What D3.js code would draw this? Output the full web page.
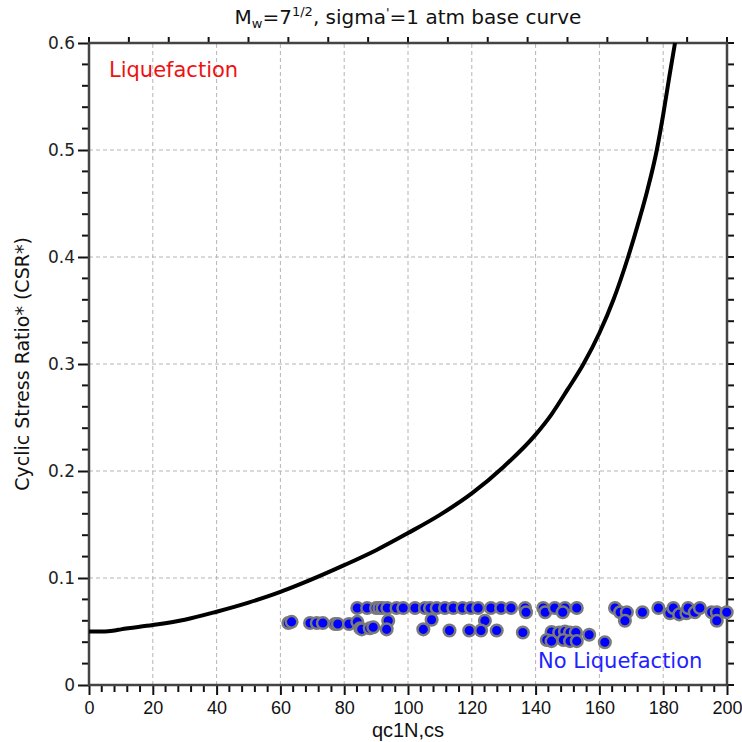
<!DOCTYPE html>
<html><head><meta charset="utf-8">
<script src="https://cdn.jsdelivr.net/npm/d3@7"></script>
<style>body{margin:0;background:#fff}</style>
</head><body>
<script>
// Base curve (qc1N,cs , CSR*)
const curveQ   = [0, 5, 8, 10, 20, 30, 40, 50, 60, 66, 80, 90, 100, 110, 120, 130, 140, 145, 150, 155, 160, 164.4, 169, 172.7, 175, 178, 180, 182, 183.7];
const curveCSR = [0.050, 0.050, 0.051, 0.052, 0.056, 0.061, 0.0685, 0.077, 0.087, 0.094, 0.112, 0.126, 0.142, 0.159, 0.179, 0.204, 0.234, 0.253, 0.276, 0.300, 0.329, 0.360, 0.400, 0.437, 0.462, 0.500, 0.533, 0.570, 0.600];
// Case history points
const ptQ   = [62.5, 63.5, 69.3, 71.4, 73.3, 77.1, 78, 81.5, 84.1, 85, 85.5, 88, 89.1, 93.8, 93.3, 104.8,
               84.1, 87.2, 90, 91, 92, 93.5, 96.4, 98.5, 102.2, 105.3,
               106.9, 109, 111.6, 114.2, 117.1, 119.7, 122, 126, 129.2, 132.3, 136.7, 137, 142.4, 143, 146, 149.2, 148.5, 152.9,
               107.4, 124.1, 113, 119.2, 122.9, 127.8, 136,
               145, 143.5, 145, 147.4, 149.2, 150.8, 152.6, 148.7, 150.8, 152.9, 156.8, 161.7,
               164.9, 166.5, 168.6, 168, 173.5, 178.5, 182.1, 183.2, 185, 187.3, 187.8, 189.9, 191.5, 195.2, 196.8, 196.8, 199.9];
const ptCSR = [0.058, 0.059, 0.058, 0.058, 0.058, 0.057, 0.057, 0.057, 0.059, 0.053, 0.052, 0.053, 0.054, 0.060, 0.052, 0.052,
               0.072, 0.072, 0.072, 0.072, 0.072, 0.072, 0.072, 0.072, 0.072, 0.072,
               0.072, 0.072, 0.072, 0.072, 0.072, 0.072, 0.072, 0.072, 0.072, 0.072, 0.072, 0.068, 0.072, 0.068, 0.072, 0.072, 0.068, 0.072,
               0.061, 0.060, 0.051, 0.051, 0.051, 0.051, 0.049,
               0.0495, 0.042, 0.041, 0.049, 0.050, 0.049, 0.049, 0.042, 0.041, 0.041, 0.047, 0.040,
               0.072, 0.068, 0.068, 0.060, 0.068, 0.072, 0.067, 0.072, 0.066, 0.067, 0.072, 0.068, 0.072, 0.068, 0.068, 0.060, 0.068];
const xTicks = [0, 20, 40, 60, 80, 100, 120, 140, 160, 180, 200];
const yTicks = [0, 0.1, 0.2, 0.3, 0.4, 0.5, 0.6];
const yTickLabels = ["0", "0.1", "0.2", "0.3", "0.4", "0.5", "0.6"];

const W = 742, H = 742;
const m = {l: 89, r: 15, t: 43, b: 57};
const svg = d3.select("body").append("svg").attr("width", W).attr("height", H);
const x = d3.scaleLinear().domain([0, 200]).range([m.l, W - m.r]);
const y = d3.scaleLinear().domain([0, 0.6]).range([H - m.b, m.t]);

// grid
const g = svg.append("g");
g.selectAll("line.vx").data(xTicks.slice(1, -1)).join("line")
  .attr("x1", d => x(d)).attr("x2", d => x(d)).attr("y1", y(0)).attr("y2", y(0.6))
  .attr("stroke", "#b4b4b4").attr("stroke-dasharray", "4,3").attr("stroke-width", 1);
g.selectAll("line.hy").data(yTicks.slice(1, -1)).join("line")
  .attr("y1", d => y(d)).attr("y2", d => y(d)).attr("x1", x(0)).attr("x2", x(200))
  .attr("stroke", "#b4b4b4").attr("stroke-dasharray", "4,3").attr("stroke-width", 1);

// minor ticks
const xMinor = d3.range(0, 201, 4).filter(v => v % 20 !== 0);
const yMinor = d3.range(0, 31).map(i => i * 0.02).filter((v, i) => i % 5 !== 0);

// bottom axis
const bx = svg.append("g").attr("transform", `translate(0,${y(0)})`)
  .call(d3.axisBottom(x).tickValues(xTicks).tickSize(10).tickSizeOuter(0).tickPadding(6));
bx.select(".domain").remove();
bx.selectAll(".tick line").attr("stroke", "#111").attr("stroke-width", 2);
bx.selectAll("text").attr("font-family", "'Liberation Sans Narrow', 'Liberation Sans', sans-serif").attr("font-size", 18).attr("fill", "#111");
svg.append("g").selectAll("line").data(xMinor).join("line")
  .attr("x1", d => x(d)).attr("x2", d => x(d)).attr("y1", y(0)).attr("y2", y(0) + 7)
  .attr("stroke", "#111").attr("stroke-width", 2);

// left axis
const ly = svg.append("g").attr("transform", `translate(${x(0)},0)`)
  .call(d3.axisLeft(y).tickValues(yTicks).tickFormat((d, i) => yTickLabels[i]).tickSize(11).tickSizeOuter(0).tickPadding(3));
ly.select(".domain").remove();
ly.selectAll(".tick line").attr("stroke", "#111").attr("stroke-width", 2);
ly.selectAll("text").attr("font-family", "'DejaVu Sans', sans-serif").attr("font-size", 17).attr("fill", "#222");
svg.append("g").selectAll("line").data(yMinor).join("line")
  .attr("x1", x(0) - 7).attr("x2", x(0)).attr("y1", d => y(d)).attr("y2", d => y(d))
  .attr("stroke", "#111").attr("stroke-width", 2);

// right axis ticks
svg.append("g").selectAll("line").data(d3.range(0, 31).map(i => i * 0.02)).join("line")
  .attr("x1", x(200)).attr("x2", x(200) + 7).attr("y1", d => y(d)).attr("y2", d => y(d))
  .attr("stroke", "#111").attr("stroke-width", 2);
// top axis ticks
svg.append("g").selectAll("line").data(d3.range(0, 201, 12.5)).join("line")
  .attr("x1", d => x(d)).attr("x2", d => x(d)).attr("y1", y(0.6)).attr("y2", y(0.6) - 6)
  .attr("stroke", "#111").attr("stroke-width", 2);

// frame
svg.append("rect").attr("x", x(0)).attr("y", y(0.6)).attr("width", x(200) - x(0)).attr("height", y(0) - y(0.6))
  .attr("fill", "none").attr("stroke", "#444").attr("stroke-width", 2.5);

// curve
const curveData = curveQ.map((q, i) => [q, curveCSR[i]]);
svg.append("path").datum(curveData)
  .attr("d", d3.line().x(d => x(d[0])).y(d => y(d[1])).curve(d3.curveMonotoneX))
  .attr("fill", "none").attr("stroke", "#000").attr("stroke-width", 4);

// points
const pts = ptQ.map((q, i) => [q, ptCSR[i]]);
svg.append("g").selectAll("circle").data(pts).join("circle")
  .attr("cx", d => x(d[0])).attr("cy", d => y(d[1])).attr("r", 5.8)
  .attr("fill", "#0000ff").attr("stroke", "#7a7a7a").attr("stroke-width", 2.5);

// labels
svg.append("text").attr("x", 109).attr("y", 77).text("Liquefaction")
  .attr("font-family", "'DejaVu Sans', sans-serif").attr("font-size", 21).attr("fill", "#ee1111");
svg.append("text").attr("x", 538).attr("y", 668).text("No Liquefaction")
  .attr("font-family", "'DejaVu Sans', sans-serif").attr("font-size", 21).attr("fill", "#2222ff");

// axis titles
svg.append("text").attr("x", (x(0) + x(200)) / 2).attr("y", 737).attr("text-anchor", "middle")
  .attr("font-family", "'Liberation Sans Narrow', 'Liberation Sans', sans-serif").attr("font-size", 20).attr("fill", "#111")
  .text("qc1N,cs");
svg.append("text").attr("transform", `translate(29,${(y(0) + y(0.6)) / 2}) rotate(-90)`).attr("text-anchor", "middle")
  .attr("font-family", "'DejaVu Sans', sans-serif").attr("font-size", 19).attr("fill", "#111")
  .text("Cyclic Stress Ratio* (CSR*)");

// title
const t = svg.append("text").attr("x", (x(0) + x(200)) / 2).attr("y", 24).attr("text-anchor", "middle")
  .attr("font-family", "'DejaVu Sans', sans-serif").attr("font-size", 20).attr("fill", "#111");
t.append("tspan").text("M");
t.append("tspan").text("w").attr("font-size", 13).attr("dy", 4);
t.append("tspan").text("=7").attr("dy", -4);
t.append("tspan").text("1/2").attr("font-size", 13).attr("dy", -8);
t.append("tspan").text(", sigma").attr("dy", 8);
t.append("tspan").text("'").attr("font-size", 13).attr("dy", -7);
t.append("tspan").text("=1 atm base curve").attr("dy", 7);
</script>
</body></html>
